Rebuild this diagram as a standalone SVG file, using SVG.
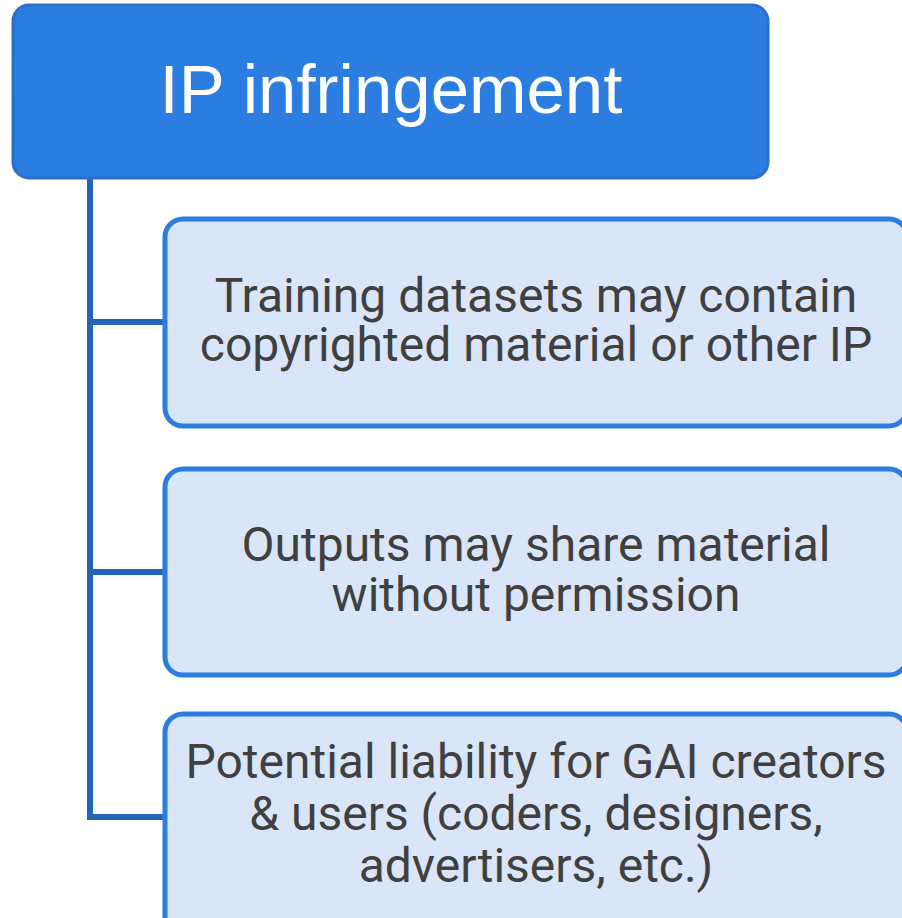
<svg xmlns="http://www.w3.org/2000/svg" width="902" height="918" viewBox="0 0 902 918">
<style>
.head{fill:#2b7de0;stroke:#2a6fc9;stroke-width:3}
.child{fill:#d8e6f8;stroke:#2b7de0;stroke-width:5}
.conn{fill:none;stroke:#2366b8;stroke-width:6}
.ht{font-family:"Liberation Sans",Arial,sans-serif;font-size:69px;fill:#ffffff;text-anchor:middle}
.ct{font-family:Roboto,"Liberation Sans",sans-serif;font-size:48px;fill:#404040;text-anchor:middle}
</style>
<rect width="902" height="918" fill="#ffffff"/>
<g id="connectors">
<path class="conn" d="M90,178 V817 H166"/>
<path class="conn" d="M90,322 H166"/>
<path class="conn" d="M90,572 H166"/>
</g>
<g id="header">
<rect class="head" x="13" y="5" width="755" height="173" rx="16"/>
<text class="ht" x="391" y="113">IP infringement</text>
</g>
<g id="node1">
<rect class="child" x="165" y="219" width="742" height="207" rx="18"/>
<text class="ct" x="536" y="312">Training datasets may contain</text>
<text class="ct" x="536" y="361">copyrighted material or other IP</text>
</g>
<g id="node2">
<rect class="child" x="165" y="469" width="742" height="206" rx="18"/>
<text class="ct" x="536" y="561">Outputs may share material</text>
<text class="ct" x="536" y="611">without permission</text>
</g>
<g id="node3">
<rect class="child" x="165" y="714" width="742" height="230" rx="18"/>
<text class="ct" x="536" y="778">Potential liability for GAI creators</text>
<text class="ct" x="536" y="830">&amp; users (coders, designers,</text>
<text class="ct" x="536" y="882">advertisers, etc.)</text>
</g>
</svg>
